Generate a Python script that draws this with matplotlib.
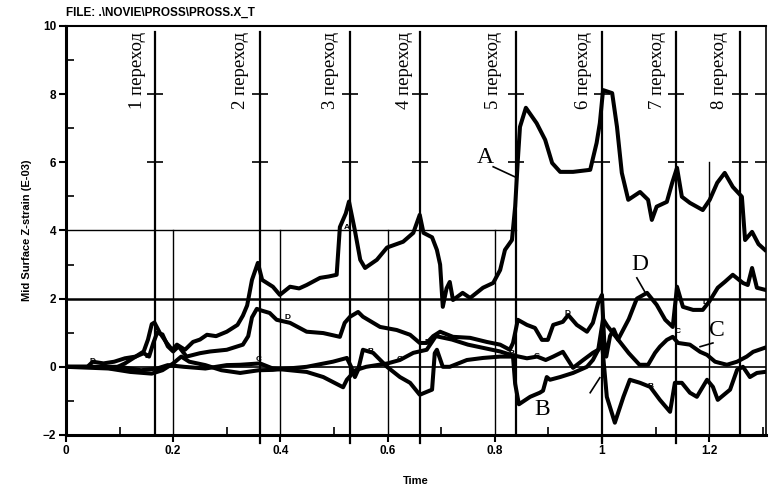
import numpy as np
import matplotlib
matplotlib.use("Agg")
from matplotlib import pyplot as plt
from matplotlib.ticker import MultipleLocator

# curve A
a_t = [0, 0.05, 0.09, 0.11, 0.13, 0.145, 0.153, 0.16, 0.165, 0.175, 0.188, 0.198, 0.207, 0.222,
       0.237, 0.25, 0.263, 0.28, 0.30, 0.32, 0.33, 0.338, 0.347, 0.358, 0.366, 0.386, 0.399,
       0.418, 0.435, 0.449, 0.474, 0.49, 0.505, 0.511, 0.522, 0.528, 0.539, 0.549, 0.558, 0.58,
       0.599, 0.629, 0.648, 0.66, 0.667, 0.683, 0.692, 0.698, 0.703, 0.71, 0.716, 0.722, 0.74,
       0.754, 0.778, 0.797, 0.81, 0.819, 0.832, 0.838, 0.843, 0.847, 0.858, 0.878, 0.894, 0.907,
       0.922, 0.946, 0.978, 0.99, 0.996, 1.002, 1.019, 1.028, 1.037, 1.049, 1.071, 1.086, 1.093,
       1.102, 1.121, 1.131, 1.14, 1.149, 1.164, 1.188, 1.201, 1.215, 1.229, 1.244, 1.261, 1.267,
       1.28, 1.292, 1.304]
a_v = [0, 0.0, -0.05, 0.1, 0.3, 0.45, 0.8, 1.25, 1.3, 1.0, 0.7, 0.5, 0.65, 0.5,
       0.73, 0.8, 0.94, 0.9, 1.03, 1.23, 1.5, 1.8, 2.55, 3.05, 2.55, 2.35, 2.11,
       2.35, 2.3, 2.4, 2.61, 2.65, 2.7, 4.1, 4.5, 4.85, 4.0, 3.14, 2.9, 3.14,
       3.5, 3.67, 3.93, 4.46, 3.93, 3.8, 3.43, 3.0, 1.76, 2.3, 2.49, 1.96, 2.17,
       2.02, 2.32, 2.46, 2.84, 3.43, 3.72, 4.7, 6.07, 7.04, 7.6, 7.15, 6.66, 5.98,
       5.72, 5.72, 5.78, 6.57, 7.15, 8.12, 8.03, 7.04, 5.69, 4.9, 5.13, 4.9, 4.31,
       4.7, 4.84, 5.4, 5.84, 4.99, 4.81, 4.6, 4.9, 5.4, 5.69, 5.28, 4.99, 3.72,
       3.96, 3.6, 3.43]

# curve B
b_t = [0, 0.08, 0.12, 0.16, 0.18, 0.2, 0.215, 0.23, 0.26, 0.29, 0.325, 0.36, 0.386, 0.449,
       0.498, 0.524, 0.532, 0.539, 0.545, 0.554, 0.573, 0.599, 0.623, 0.642, 0.66, 0.683,
       0.688, 0.692, 0.703, 0.716, 0.748, 0.778, 0.81, 0.834, 0.838, 0.845, 0.866, 0.884,
       0.89, 0.897, 0.903, 0.922, 0.946, 0.972, 0.983, 0.993, 1.0, 1.009, 1.024, 1.04, 1.052,
       1.071, 1.09, 1.108, 1.127, 1.136, 1.149, 1.164, 1.177, 1.196, 1.207, 1.216, 1.239,
       1.252, 1.263, 1.276, 1.289, 1.304]
b_v = [0, -0.05, -0.15, -0.2, -0.1, 0.1, 0.3, 0.15, 0.05, -0.1, -0.18, -0.1, -0.09, 0.0,
       0.15, 0.26, 0.0, -0.3, -0.09, 0.5, 0.41, 0.0, -0.3, -0.47, -0.82, -0.67,
       0.4, 0.5, 0.0, 0.0, 0.2, 0.26, 0.3, 0.3, -0.5, -1.1, -0.88, -0.76,
       -0.7, -0.3, -0.38, -0.3, -0.18, 0.0, 0.2, 0.5, 0.7, -0.88, -1.64, -0.88, -0.38,
       -0.47, -0.59, -0.97, -1.32, -0.47, -0.47, -0.76, -0.88, -0.38, -0.59, -0.97, -0.67,
       -0.09, 0.0, -0.3, -0.18, -0.15]

# curve C
c_t = [0, 0.1, 0.14, 0.17, 0.19, 0.22, 0.26, 0.3, 0.325, 0.362, 0.386, 0.449, 0.48, 0.517,
       0.524, 0.54, 0.56, 0.6, 0.623, 0.648, 0.673, 0.69, 0.72, 0.75, 0.78, 0.81, 0.83, 0.86,
       0.879, 0.895, 0.909, 0.927, 0.946, 0.965, 0.983, 0.993, 1.002, 1.01, 1.03, 1.05, 1.07,
       1.086, 1.099, 1.108, 1.121, 1.132, 1.142, 1.164, 1.183, 1.196, 1.211, 1.233, 1.252,
       1.27, 1.282, 1.304]
c_v = [0, 0.0, -0.1, -0.05, 0.05, 0.0, -0.05, 0.05, 0.06, 0.1, -0.05, -0.15, -0.3, -0.6,
       -0.38, -0.1, 0.0, 0.1, 0.2, 0.41, 0.5, 0.9, 0.8, 0.65, 0.55, 0.45, 0.35, 0.25,
       0.3, 0.2, 0.3, 0.44, -0.03, 0.2, 0.41, 0.5, 1.4, 1.2, 0.8, 0.4, 0.06,
       0.06, 0.41, 0.59, 0.79, 0.88, 0.7, 0.65, 0.44, 0.35, 0.15, 0.06, 0.15,
       0.3, 0.44, 0.56]

# curve D
d_t = [0, 0.04, 0.05, 0.07, 0.09, 0.11, 0.13, 0.145, 0.155, 0.163, 0.17, 0.18, 0.19, 0.2,
       0.21, 0.225, 0.25, 0.269, 0.30, 0.33, 0.34, 0.347, 0.356, 0.365, 0.38, 0.393, 0.418,
       0.449, 0.48, 0.511, 0.52, 0.53, 0.545, 0.554, 0.586, 0.617, 0.642, 0.66, 0.673, 0.685,
       0.698, 0.722, 0.754, 0.785, 0.81, 0.828, 0.834, 0.843, 0.86, 0.875, 0.888, 0.899,
       0.909, 0.927, 0.937, 0.953, 0.972, 0.983, 0.993, 1.0, 1.004, 1.008, 1.015, 1.022,
       1.03, 1.05, 1.065, 1.084, 1.102, 1.118, 1.132, 1.14, 1.151, 1.17, 1.188, 1.2, 1.216,
       1.229, 1.244, 1.263, 1.272, 1.28, 1.289, 1.304]
d_v = [0, 0.0, 0.15, 0.1, 0.15, 0.25, 0.3, 0.4, 0.3, 0.7, 1.0, 0.95, 0.6, 0.45,
       0.6, 0.3, 0.4, 0.45, 0.5, 0.65, 0.9, 1.45, 1.7, 1.65, 1.58, 1.38, 1.29,
       1.03, 0.99, 0.88, 1.29, 1.47, 1.61, 1.47, 1.17, 1.08, 0.94, 0.7, 0.7, 0.9,
       1.03, 0.88, 0.85, 0.73, 0.65, 0.5, 0.7, 1.38, 1.23, 1.14, 0.79, 0.79,
       1.23, 1.32, 1.52, 1.23, 1.03, 1.29, 1.88, 2.11, 0.8, 0.3, 0.9, 1.1,
       0.8, 1.4, 2.0, 2.17, 1.82, 1.38, 1.17, 2.35, 1.76, 1.67, 1.67, 1.91, 2.32,
       2.49, 2.7, 2.46, 2.4, 2.9, 2.32, 2.26]

# transitions
trans_x = [0.166, 0.362, 0.530, 0.660, 0.840, 1.0, 1.138, 1.257]
trans_lbl = ["1 переход", "2 переход", "3 переход", "4 переход",
             "5 переход", "6 переход", "7 переход", "8 переход"]
trans_txt_x = [0.134, 0.326, 0.494, 0.631, 0.797, 0.965, 1.104, 1.22]

# little curve markers from the original plot
mk_x = [0.05, 0.153, 0.414, 0.569, 0.623, 0.675, 0.832, 0.879, 0.935, 1.091, 1.142, 1.194, 0.36, 0.524]
mk_y = [0.15, 0.29, 1.44, 0.44, 0.2, 0.7, 0.38, 0.29, 1.55, -0.59, 1.03, 1.9, 0.2, 4.1]
mk_s = ["D", "D", "D", "B", "C", "D", "B", "C", "D", "B", "C", "D", "C", "A"]

fig = plt.figure(figsize=(7.69, 4.99), dpi=100)
ax = fig.add_axes([0.0858, 0.1283, 0.9103, 0.8196])
ax.set_xlim(0, 1.306)
ax.set_ylim(-2, 10)

# grid-ish lines
ax.axhline(2, color="k", lw=1.8, zorder=1)
ax.axhline(0, color="k", lw=1.2, zorder=1)
ax.plot([0, 0.84], [4, 4], color="k", lw=1.0, zorder=1)
for gx in [0.2, 0.4, 0.6, 0.8]:
    ax.plot([gx, gx], [-2, 4], color="k", lw=1.0, zorder=1)
ax.plot([1.2, 1.2], [-2, 6], color="k", lw=1.0, zorder=1)

ext = [False, True, True, True, False, True, True, False]
for x, e in zip(trans_x, ext):
    ax.plot([x, x], [-2.25 if e else -2, 9.82], color="k", lw=1.6, zorder=1, clip_on=False)
for yy in [8, 6]:
    ax.plot(trans_x + [1.3], [yy] * (len(trans_x) + 1), ls="none", marker="_",
            ms=11, mew=1.2, color="k", zorder=1)

for x, s in zip(trans_txt_x, trans_lbl):
    ax.text(x, 9.82, s, rotation=90, ha="center", va="top", fontsize=13.5,
            family="Liberation Serif")

for t, v in [(a_t, a_v), (b_t, b_v), (c_t, c_v), (d_t, d_v)]:
    ax.plot(t, v, color="k", lw=2.9, solid_joinstyle="round", zorder=3)

for x, y, s in zip(mk_x, mk_y, mk_s):
    ax.text(x, y, s, fontsize=6, fontweight="bold", ha="center", va="center",
            family="Liberation Sans", zorder=4)

# big curve labels with leaders
ser = dict(fontsize=17, family="Liberation Serif", ha="center", va="center", zorder=5)
ax.text(0.782, 6.15, "A", **ser)
ax.plot([0.797, 0.838], [5.87, 5.57], color="k", lw=1.2)
ax.text(0.888, -1.26, "B", **ser)
ax.plot([0.978, 0.996], [-0.76, -0.32], color="k", lw=1.2)
ax.text(1.071, 2.99, "D", **ser)
ax.plot([1.065, 1.08], [2.61, 2.2], color="k", lw=1.2)
ax.text(1.214, 1.06, "C", **ser)
ax.plot([1.183, 1.207], [0.59, 0.7], color="k", lw=1.2)

ax.spines["left"].set_linewidth(2.2)
ax.spines["bottom"].set_linewidth(2.2)
ax.spines["top"].set_linewidth(1.5)
ax.spines["right"].set_linewidth(1.2)

ax.xaxis.set_major_locator(MultipleLocator(0.2))
ax.xaxis.set_minor_locator(MultipleLocator(0.1))
ax.yaxis.set_major_locator(MultipleLocator(2))
ax.yaxis.set_minor_locator(MultipleLocator(1))
ax.set_xticks([0, 0.2, 0.4, 0.6, 0.8, 1.0, 1.2])
ax.set_xticklabels(["0", "0.2", "0.4", "0.6", "0.8", "1", "1.2"])
ax.tick_params(axis="both", which="major", direction="out", length=5, width=1.5,
               labelsize=8.5, pad=2)
ax.tick_params(axis="both", which="minor", direction="in", length=6, width=1.2)
for lab in ax.get_xticklabels() + ax.get_yticklabels():
    lab.set_fontweight("bold")
    lab.set_family("Liberation Sans")

ax.set_xlabel("Time", fontsize=8, fontweight="bold", family="Liberation Sans", labelpad=14)
ax.set_ylabel("Mid Surface Z-strain (E-03)", fontsize=8, fontweight="bold",
              family="Liberation Sans", labelpad=8)
fig.text(66 / 769, 1 - 13 / 499, "FILE: .\\NOVIE\\PROSS\\PROSS.X_T", fontsize=8.5,
         fontweight="bold", family="Liberation Sans", va="center", ha="left")

fig.savefig("out.png", dpi=100)
